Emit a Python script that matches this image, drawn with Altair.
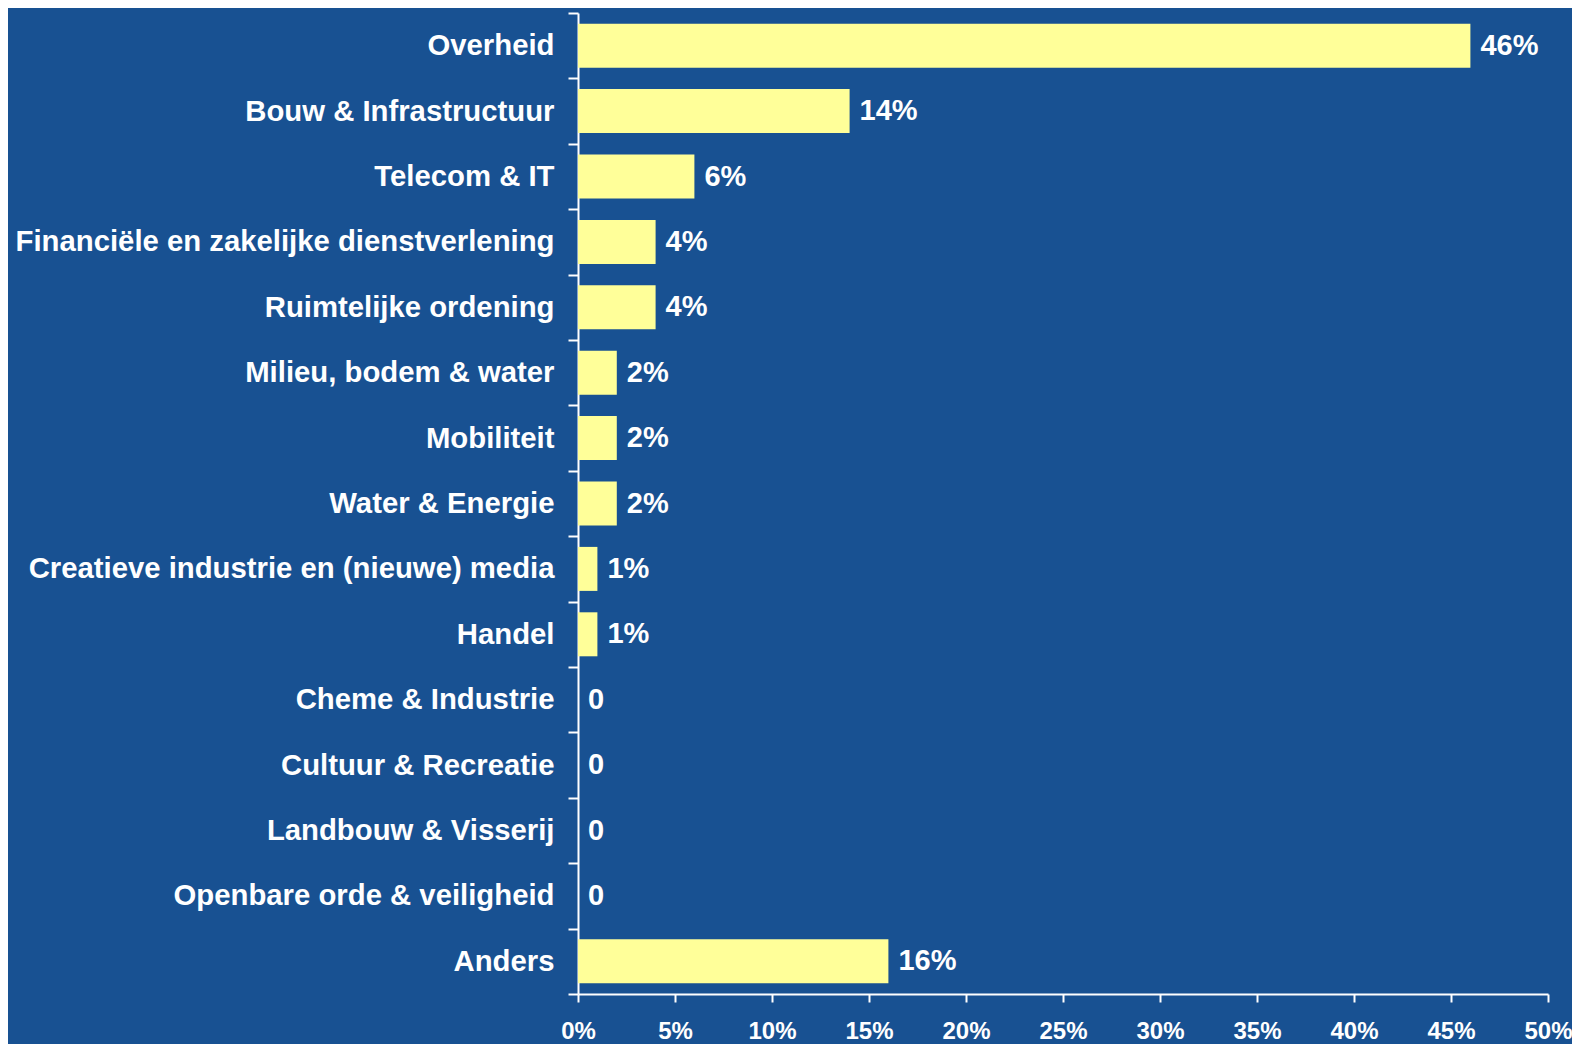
import altair as alt
import pandas as pd

categories = [
    "Overheid",
    "Bouw & Infrastructuur",
    "Telecom & IT",
    "Financiële en zakelijke dienstverlening",
    "Ruimtelijke ordening",
    "Milieu, bodem & water",
    "Mobiliteit",
    "Water & Energie",
    "Creatieve industrie en (nieuwe) media",
    "Handel",
    "Cheme & Industrie",
    "Cultuur & Recreatie",
    "Landbouw & Visserij",
    "Openbare orde & veiligheid",
    "Anders",
]
values = [46, 14, 6, 4, 4, 2, 2, 2, 1, 1, 0, 0, 0, 0, 16]
value_labels = ["46%", "14%", "6%", "4%", "4%", "2%", "2%", "2%", "1%", "1%",
                "0", "0", "0", "0", "16%"]
x_ticks = [0, 5, 10, 15, 20, 25, 30, 35, 40, 45, 50]

df = pd.DataFrame({"cat": categories, "val": values, "lab": value_labels})

BG = "#185192"
FONT = "Liberation Sans"

y_enc = alt.Y(
    "cat:N",
    sort=categories,
    title=None,
    scale=alt.Scale(paddingInner=0, paddingOuter=0),
    axis=alt.Axis(
        tickBand="extent",
        tickSize=10,
        tickWidth=2,
        tickColor="white",
        domainColor="white",
        domainWidth=2,
        labelColor="white",
        labelFont=FONT,
        labelFontSize=29.3,
        labelFontWeight="bold",
        labelPadding=14,
        labelLimit=0,
    ),
)

x_enc = alt.X(
    "val:Q",
    title=None,
    scale=alt.Scale(domain=[0, 50], nice=False),
    axis=alt.Axis(
        values=x_ticks,
        labelExpr="datum.value + '%'",
        labelFlush=False,
        tickSize=8,
        tickWidth=2,
        tickColor="white",
        domainColor="white",
        domainWidth=2,
        labelColor="white",
        labelFont=FONT,
        labelFontSize=24,
        labelFontWeight="bold",
        labelPadding=17,
        grid=False,
    ),
)

bars = alt.Chart(df).mark_bar(color="#FFFF99", size=44).encode(x=x_enc, y=y_enc)

text = alt.Chart(df).mark_text(
    align="left", baseline="middle", dx=10, color="white",
    font=FONT, fontSize=29, fontWeight="bold"
).encode(x="val:Q", y=alt.Y("cat:N", sort=categories), text="lab:N")

chart = (
    alt.layer(bars, text)
    .properties(
        width=970,
        height=981,
        background=BG,
        autosize=alt.AutoSizeParams(type="none"),
        padding={"left": 570, "top": 5, "right": 24, "bottom": 50},
    )
    .configure_view(stroke=None)
)

chart.save("out.html", embed_options={"renderer": "svg", "actions": False})
